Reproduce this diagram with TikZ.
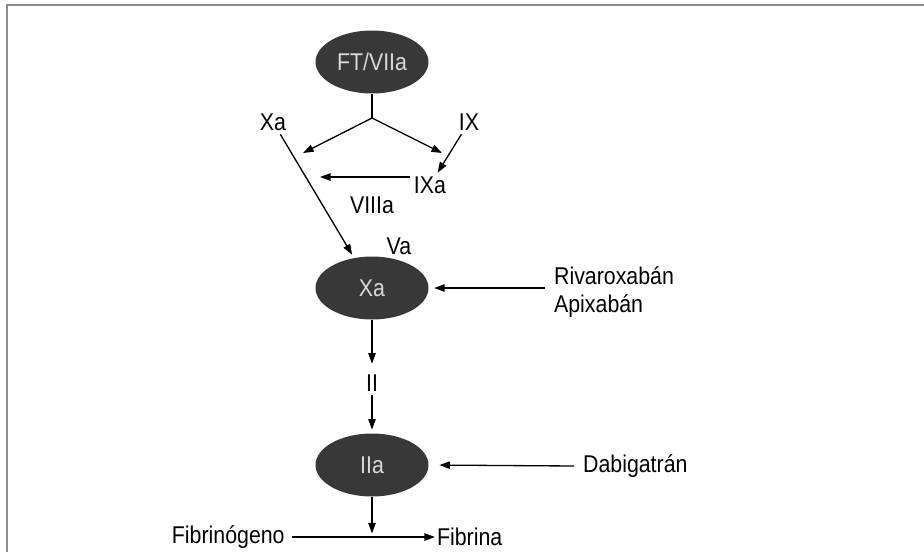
\documentclass[tikz,border=0pt]{standalone}
\usepackage{fontspec}
\setmainfont[FakeStretch=0.88]{Liberation Sans}
\usetikzlibrary{arrows.meta,shapes.geometric}
\tikzset{
  factor/.style={ellipse, fill=black!78, text=white!85!black, inner sep=0pt,
    minimum width=2.26cm, minimum height=1.26cm},
  lbl/.style={inner sep=2pt},
  arr/.style={-{Triangle[length=6pt,width=4.2pt]}, line width=0.75pt},
  link/.style={line width=0.75pt},
}
\begin{document}
\begin{tikzpicture}[x=0.02cm, y=-0.02cm, font=\fontsize{13.8}{16}\selectfont]
    \useasboundingbox (0,0) rectangle (924,552);
    % Frame
    \draw[black!45, line width=1.3pt] (7,552) -- (7,5) -- (924,5);
    % Factors
    \node[factor] (ft) at (372,62) {FT/VIIa};
    \node[factor] (xa) at (372,288) {Xa};
    \node[factor] (iia) at (372,465) {IIa};
    % Labels
    \node[lbl] (xalbl) at (273,122) {Xa};
    \node[lbl] (ix) at (469,122) {IX};
    \node[lbl] (ixa) at (430,185) {IXa};
    \node[lbl] (viiia) at (372,205) {VIIIa};
    \node[lbl] (va) at (399,246) {Va};
    \node[lbl] (ii) at (372,383) {II};
    \node[lbl, anchor=west, align=left, inner sep=5pt] (riva) at (545,292)
      {Rivaroxabán\\Apixabán};
    \node[lbl, anchor=west, inner sep=5pt] (dabi) at (574,466) {Dabigatrán};
    \node[lbl, anchor=east, inner sep=4pt] (fibg) at (292,537) {Fibrinógeno};
    \node[lbl, anchor=west, inner sep=1pt] (fibr) at (435,537) {Fibrina};
    % Free ends
    \coordinate (j) at (372,118);
    \coordinate (jl) at (303,153);
    \coordinate (jr) at (442,153);
    \coordinate (lt) at (320,177);
    \coordinate (fb) at (372,537);
    % Arrows
    \draw[link] (ft.south) -- (j);
    \draw[arr] (j) -- (jl);
    \draw[arr] (j) -- (jr);
    \draw[arr] (ix) -- (ixa);
    \draw[arr] (lt -| ixa.west) -- (lt);
    \draw[arr, shorten >=2pt] (xalbl) -- (xa);
    \draw[arr, shorten >=3pt] (riva.west |- xa.east) -- (xa.east);
    \draw[arr, shorten >=4pt] (xa.south) -- (ii.north);
    \draw[arr, shorten >=2pt] (ii.south) -- (iia.north);
    \draw[arr, shorten >=6pt] (dabi.west) -- (iia.east);
    \draw[arr, shorten >=2pt] (iia.south) -- (fb);
    \draw[arr] (fibg.east) -- (fibr.west);
  \end{tikzpicture}
\end{document}
